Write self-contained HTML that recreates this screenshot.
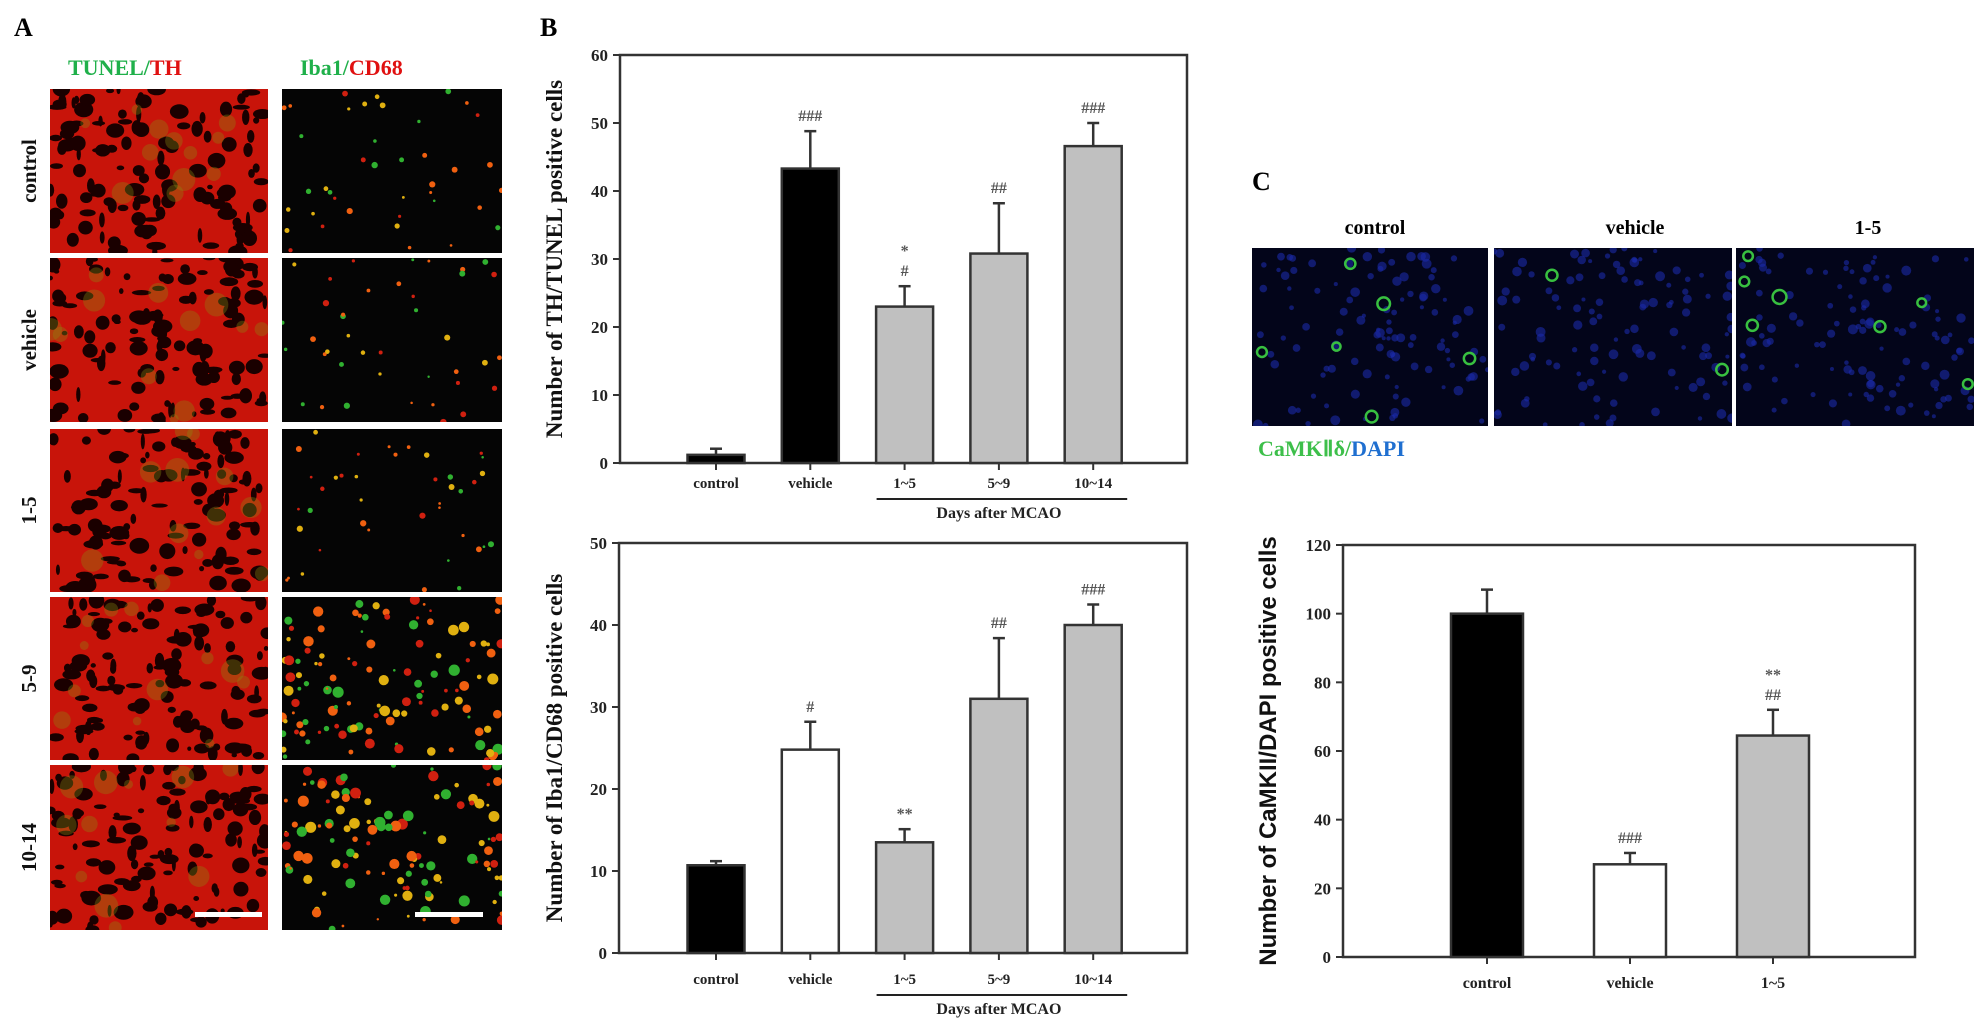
<!DOCTYPE html>
<html><head><meta charset="utf-8"><style>
html,body{margin:0;padding:0;background:#fff;width:1988px;height:1026px;overflow:hidden}
svg{display:block}
text{font-family:"Liberation Serif",serif;font-weight:bold}
</style></head><body>
<svg id="fig" width="1988" height="1026" viewBox="0 0 1988 1026" xmlns="http://www.w3.org/2000/svg">
<g id="panelA">
<text x="14" y="36" font-size="26">A</text>
<text x="68" y="75" font-size="22"><tspan fill="#1fb04a">TUNEL/</tspan><tspan fill="#e01010">TH</tspan></text>
<text x="300" y="75" font-size="22"><tspan fill="#1fb04a">Iba1/</tspan><tspan fill="#e01010">CD68</tspan></text>
</g>
<g id="panelB">
<text x="540" y="36" font-size="26">B</text>
</g>
<g id="panelC">
<text x="1252" y="190" font-size="26">C</text>
<text x="1375" y="234" font-size="20" text-anchor="middle">control</text>
<text x="1635" y="234" font-size="20" text-anchor="middle">vehicle</text>
<text x="1868" y="234" font-size="20" text-anchor="middle">1-5</text>
<text x="1258" y="456" font-size="22"><tspan fill="#3dbf4a">CaMKⅡδ/</tspan><tspan fill="#1f6fd0">DAPI</tspan></text>
</g>
</svg>
<script>
// ---- Chart data ----
const catsB = ["control","vehicle","1~5","5~9","10~14"];
const thTunelVals = [1.2, 43.3, 23.0, 30.8, 46.6];
const thTunelErr = [0.9, 5.5, 3.0, 7.4, 3.4];
const thTunelSig = ["", "###", "*\n#", "##", "###"];
const thTicks = [0,10,20,30,40,50,60];
const ibaVals = [10.7, 24.8, 13.5, 31.0, 40.0];
const ibaErr = [0.5, 3.4, 1.6, 7.4, 2.5];
const ibaSig = ["", "#", "**", "##", "###"];
const ibaTicks = [0,10,20,30,40,50];
const catsC = ["control","vehicle","1~5"];
const camkVals = [100, 27, 64.5];
const camkErr = [7, 3.3, 7.5];
const camkSig = ["", "###", "**\n##"];
const camkTicks = [0,20,40,60,80,100,120];
const fillsB = ["#000","#000","#c0c0c0","#c0c0c0","#c0c0c0"];
const fillsB2 = ["#000","#fff","#c0c0c0","#c0c0c0","#c0c0c0"];
const fillsC = ["#000","#fff","#c0c0c0"];

const NS="http://www.w3.org/2000/svg";
const fig=document.getElementById('fig');
function el(tag,attrs,parent){const e=document.createElementNS(NS,tag);for(const k in attrs)e.setAttribute(k,attrs[k]);(parent||fig).appendChild(e);return e;}

function chart(o){
  const g=el('g',{});
  
  
  const ymax=o.ticks[o.ticks.length-1];
  const y=v=>o.bottom-(v/ymax)*(o.bottom-o.top);
  const n=o.cats.length;
  const x=i=>o.c0+i*o.step;
  const fr=el('rect',{x:o.left,y:o.top,width:o.right-o.left,height:o.bottom-o.top,fill:'none',stroke:'#333','stroke-width':2.5},g);
  
  
  o.ticks.forEach(t=>{
    el('line',{x1:o.left-7,x2:o.left,y1:y(t),y2:y(t),stroke:'#333','stroke-width':2},g);
    const tl=el('text',{x:o.left-12,y:y(t)+6,'font-size':o.tfs,'text-anchor':'end',fill:'#222'},g);
    tl.textContent=t;
    
    
  });
  for(let i=0;i<n;i++){
    const cx=x(i),v=o.vals[i],e=o.err[i],hw=o.bw/2;
    const b=el('rect',{x:cx-hw,y:y(v),width:o.bw,height:o.bottom-y(v),fill:o.fills[i],stroke:'#333','stroke-width':2.5},g);
    
    
    el('line',{x1:cx,x2:cx,y1:y(v),y2:y(v+e),stroke:'#333','stroke-width':2.5},g);
    el('line',{x1:cx-6,x2:cx+6,y1:y(v+e),y2:y(v+e),stroke:'#333','stroke-width':2.5},g);
    el('line',{x1:cx,x2:cx,y1:o.bottom,y2:o.bottom+7,stroke:'#333','stroke-width':2},g);
    const lines=o.sig[i]?o.sig[i].split("\n"):[];
    lines.reverse().forEach((s,k)=>{
      const st=el('text',{x:cx,y:y(v+e)-10-k*20,'font-size':16,'text-anchor':'middle',fill:'#555'},g);
      st.textContent=s;
      
      
    });
    const xl=el('text',{x:cx,y:o.labY,'font-size':o.lfs,'text-anchor':'middle',fill:'#222'},g);
    xl.textContent=o.cats[i];
    
    
  }
  const ty=el('text',{x:0,y:0,'font-size':o.yfs,'text-anchor':'middle',fill:'#111',transform:`translate(${o.titleX},${(o.top+o.bottom)/2+o.titleDy}) rotate(-90)`,style:o.titleFont||''},g);
  ty.textContent=o.title;
  
  
  if(o.days){
    el('line',{x1:x(2)-28,x2:x(4)+34,y1:o.labY+11,y2:o.labY+11,stroke:'#222','stroke-width':2},g);
    const d=el('text',{x:(x(2)+x(4))/2,y:o.labY+30,'font-size':16,'text-anchor':'middle',fill:'#222'},g);
    d.textContent="Days after MCAO";
    
    
  }
}
chart({name:'th-tunel-chart',cats:catsB,vals:thTunelVals,err:thTunelErr,sig:thTunelSig,ticks:thTicks,fills:fillsB,
  left:620,right:1187,top:55,bottom:463,c0:716,step:94.3,bw:57,labY:488,tfs:17,lfs:15,yfs:23,titleX:562,titleDy:0,
  title:"Number of TH/TUNEL positive cells",days:true});
chart({name:'iba1-cd68-chart',cats:catsB,vals:ibaVals,err:ibaErr,sig:ibaSig,ticks:ibaTicks,fills:fillsB2,
  left:619,right:1187,top:543,bottom:953,c0:716,step:94.3,bw:57,labY:984,tfs:17,lfs:15,yfs:23,titleX:562,titleDy:0,
  title:"Number of Iba1/CD68 positive cells",days:true});
chart({name:'camk-dapi-chart',cats:catsC,vals:camkVals,err:camkErr,sig:camkSig,ticks:camkTicks,fills:fillsC,
  left:1343,right:1915,top:545,bottom:957,c0:1487,step:143,bw:72,labY:988,tfs:17,lfs:16,yfs:24,titleX:1276,titleDy:0,
  title:"Number of CaMKII/DAPI positive cells",titleFont:'font-family:"Liberation Sans",sans-serif'});

// ---- Micrograph panels (decorative textures) ----
let seed=7;function rnd(){seed=(seed*16807)%2147483647;return seed/2147483647;}
function micro(x,y,w,h,type,name){
  const g=el('g',{});
  
  
  const cid='c'+Math.floor(rnd()*1e9);
  const cp=el('clipPath',{id:cid},g);el('rect',{x,y,width:w,height:h},cp);
  const inner=el('g',{'clip-path':`url(#${cid})`},g);
  if(type==='red'){
    el('rect',{x,y,width:w,height:h,fill:'#c8140a'},inner);
    for(let i=0;i<120;i++)el('ellipse',{cx:x+rnd()*w,cy:y+rnd()*h,rx:2+rnd()*8,ry:2+rnd()*6,fill:'#1a0000'},inner);
    for(let i=0;i<12;i++)el('circle',{cx:x+rnd()*w,cy:y+rnd()*h,r:4+rnd()*8,fill:'#8a8a10',opacity:0.35},inner);
  }else if(type==='dots'||type==='dense'){
    el('rect',{x,y,width:w,height:h,fill:'#050505'},inner);
    const n=type==='dense'?120:40;
    for(let i=0;i<n;i++){const c=['#d02010','#e0b010','#30b030','#f06010'][Math.floor(rnd()*4)];
      el('circle',{cx:x+rnd()*w,cy:y+rnd()*h,r:1.2+rnd()*(type==='dense'?4.5:2),fill:c},inner);}
  }else{
    el('rect',{x,y,width:w,height:h,fill:'#03051a'},inner);
    for(let i=0;i<110;i++)el('circle',{cx:x+rnd()*w,cy:y+rnd()*h,r:2+rnd()*3,fill:'#1a2aa8',opacity:0.6},inner);
    const ng=type==='blue3'?7:(type==='blue1'?6:2);
    for(let i=0;i<ng;i++)el('circle',{cx:x+rnd()*w,cy:y+rnd()*h,r:4+rnd()*3,fill:'none',stroke:'#38c040','stroke-width':2.5},inner);
  }
}
const rowsY=[[89,253],[258,422],[429,592],[597,760],[765,930]];
const rowNames=["control","vehicle","1-5","5-9","10-14"];
const rightTypes=['dots','dots','dots','dense','dense'];
rowsY.forEach((r,i)=>{
  micro(50,r[0],218,r[1]-r[0],'red','tunel-th-image-'+rowNames[i]);
  micro(282,r[0],220,r[1]-r[0],rightTypes[i],'iba1-cd68-image-'+rowNames[i]);
  const t=el('text',{x:0,y:0,'font-size':21,'text-anchor':'middle',fill:'#111',transform:`translate(36,${(r[0]+r[1])/2}) rotate(-90)`});
  t.textContent=rowNames[i];
  
  
});
const sb1=el('rect',{x:195,y:912,width:67,height:5,fill:'#fff'});


const sb2=el('rect',{x:415,y:912,width:68,height:5,fill:'#fff'});


micro(1252,248,236,178,'blue1','camk-image-control');
micro(1494,248,238,178,'blue2','camk-image-vehicle');
micro(1736,248,238,178,'blue3','camk-image-1-5');
</script>
</body></html>
